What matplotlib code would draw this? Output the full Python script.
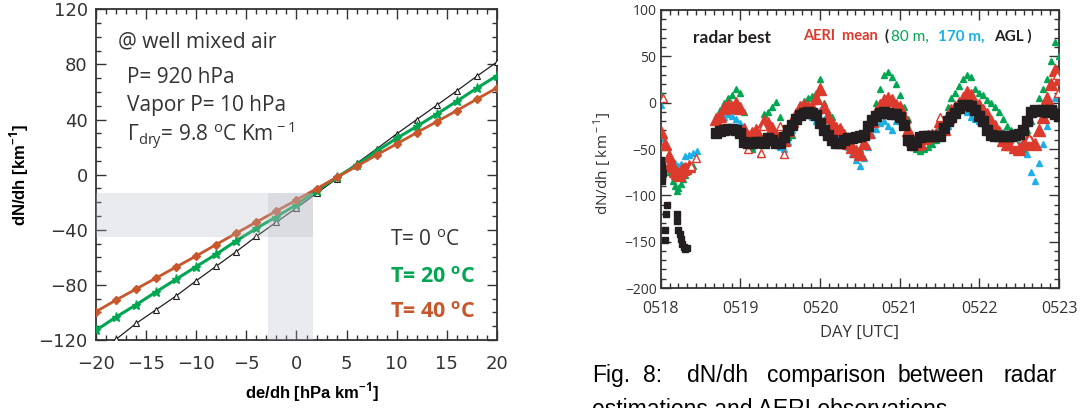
import matplotlib
matplotlib.use("Agg")
import matplotlib.pyplot as plt
from matplotlib.ticker import MultipleLocator, AutoMinorLocator, FixedLocator

plt.rcParams['font.family'] = ['Open Sans', 'DejaVu Sans']
plt.rcParams['mathtext.fontset'] = 'custom'
plt.rcParams['mathtext.rm'] = 'Open Sans'
plt.rcParams['mathtext.bf'] = 'Open Sans:bold'
plt.rcParams['axes.unicode_minus'] = True

# ---- left panel: dN/dh versus de/dh for three temperatures ----
dedh = [-20, -18, -16, -14, -12, -10, -8, -6, -4, -2, 0, 2, 4, 6, 8, 10, 12, 14, 16, 18, 20]
dndh_t0 = [-130, -119.5, -108, -98, -88, -77, -66.4, -55.8, -44.8, -34.4, -24.2,
           -13.6, -3, 8.2, 18.7, 29.6, 40, 50.4, 60.8, 71.5, 81.7]
dndh_t20 = [-113, -103.3, -94.5, -85, -75.9, -66.7, -57.7, -48, -39, -30.5, -21.8,
            -11.6, -2, 7, 17, 26.4, 35, 44, 53.3, 62.8, 71.8]
dndh_t40 = [-99.4, -91, -83, -75, -67, -59, -50.7, -42.4, -34.4, -26.4, -18.4,
            -10.2, -2, 6, 14.3, 22.3, 30.5, 38.5, 46.5, 54.8, 63]

# ---- right panel: radar vs AERI time series (days since 0518 00 UTC) ----
day_tail = [0.70, 0.75, 0.80, 0.85, 0.90, 0.95, 1.00, 1.05, 1.10, 1.15, 1.20, 1.25,
            1.30, 1.35, 1.40, 1.45, 1.50, 1.55, 1.60, 1.65, 1.70, 1.75, 1.80, 1.85,
            1.90, 1.95, 2.00, 2.05, 2.10, 2.15, 2.20, 2.25, 2.30, 2.35, 2.40, 2.45,
            2.50, 2.55, 2.60, 2.65, 2.70, 2.75, 2.80, 2.85, 2.90, 2.95, 3.00, 3.05,
            3.10, 3.15, 3.20, 3.25, 3.30, 3.35, 3.40, 3.45, 3.50, 3.55, 3.60, 3.65,
            3.70, 3.75, 3.80, 3.85, 3.90, 3.95, 4.00, 4.05, 4.10, 4.15, 4.20, 4.25,
            4.30, 4.35, 4.40, 4.45, 4.50, 4.55, 4.60, 4.65, 4.70, 4.75, 4.80, 4.85,
            4.90, 4.95, 5.00]

radar_head_day = [0.00, 0.00, 0.01, 0.01, 0.02, 0.03, 0.05, 0.06, 0.07, 0.08, 0.20,
                  0.21, 0.22, 0.24, 0.25, 0.27, 0.29, 0.31, 0.33]
radar_head = [-62, -72, -68, -80, -85, -76, -148, -137, -120, -110, -120,
              -128, -137, -142, -147, -152, -156, -158, -157]
radar_tail = [-33, -31, -30, -28, -28, -29, -33, -42, -44, -43, -42, -42,
              -43, -38, -40, -44, -43, -37, -30, -24, -18, -13, -11, -10,
              -11, -13, -22, -30, -35, -40, -43, -43, -40, -38, -38, -37,
              -36, -35, -25, -19, -14, -11, -10, -11, -12, -12, -15, -24,
              -40, -46, -42, -37, -36, -36, -36, -36, -36, -27, -20, -15,
              -11, -6, -3, -2, -4, -8, -14, -20, -30, -35, -36, -36,
              -36, -36, -36, -35, -34, -30, -20, -10, -8, -9, -8, -10,
              -8, -12, -14]

aeri_head_day = [0.00, 0.05, 0.10, 0.12, 0.15, 0.18, 0.20, 0.23, 0.25, 0.28, 0.30, 0.35]
aeri_head = [-32, -45, -58, -66, -68, -74, -76, -78, -74, -72, -70, -68]
aeri_tail = [-18, -14, -6, -3, -5, 0, -6, -28, -36, -33, -30, -38,
             -20, -22, -27, -35, -38, -40, -30, -20, -12, -5, -3, -5,
             -5, 5, 15, -5, -15, -22, -27, -28, -35, -43, -48, -52,
             -55, -43, -32, -20, -10, -2, 3, 5, 3, -3, -5, -15,
             -30, -40, -45, -43, -38, -36, -35, -34, -20, -28, -15, -8,
             -5, 0, 5, 12, 8, -5, -2, -8, -12, -20, -25, -32,
             -40, -45, -45, -48, -50, -45, -40, -42, -45, -30, -15, 5,
             20, 35, 25]
aeri_open_day = [0.03, 0.38, 0.44, 1.10, 1.26, 1.28, 1.50, 1.55, 3.50, 4.45, 4.62, 4.97, 4.99]
aeri_open = [5, -68, -60, -50, -54, -25, -25, -55, -16, -42, -38, 30, 10]

m80_head_day = [0.00, 0.02, 0.05, 0.08, 0.12, 0.15, 0.18, 0.20, 0.22, 0.25, 0.28, 0.30, 0.35, 0.40]
m80_head = [8, -35, -48, -60, -75, -85, -90, -95, -92, -88, -82, -78, -72, -68]
m80_tail = [-15, -8, 0, 5, 8, 15, 10, -10, -45, -50, -40, -45,
            -12, -10, -5, 1, -15, -30, -37, -35, -15, -3, 2, 5,
            7, 10, 25, 0, -10, -15, -25, -30, -40, -45, -50, -55,
            -50, -45, -30, -15, 0, 15, 30, 33, 28, 20, 8, -5,
            -18, -40, -50, -52, -50, -48, -45, -40, -25, -20, -5, 5,
            10, 18, 25, 30, 28, 15, 10, 8, 3, 0, -5, -10,
            -18, -25, -30, -40, -48, -50, -30, -20, -10, 5, 15, 25,
            45, 65, 50]

m170_head_day = [0.00, 0.03, 0.06, 0.10, 0.14, 0.18, 0.22, 0.26, 0.30, 0.35, 0.40, 0.45]
m170_head = [-2, -38, -45, -55, -62, -65, -68, -66, -58, -56, -54, -52]
m170_tail = [-20, -18, -15, -12, -14, -18, -22, -38, -42, -48, -45, -55,
             -45, -40, -30, -45, -48, -50, -42, -30, -20, -12, -10, -12,
             -15, -20, -8, -18, -25, -30, -35, -38, -42, -48, -55, -62,
             -68, -60, -48, -35, -28, -22, -20, -25, -30, -20, -10, -20,
             -30, -40, -45, -40, -38, -37, -36, -35, -15, -30, -25, -18,
             -12, -8, -5, -10, -15, -18, -20, -22, -25, -25, -28, -30,
             -32, -35, -38, -42, -45, -50, -55, -75, -85, -65, -45, -25,
             -10, 5, -5]

day_labels = ['0518', '0519', '0520', '0521', '0522', '0523']

c_black = '#231f20'
c_green = '#00a651'
c_orange = '#c8572c'
c_red = '#dc3a2d'
c_cyan = '#1cb0e8'

fig = plt.figure(figsize=(10.91, 4.08), dpi=100)

# left panel
ax1 = fig.add_axes([0.0880, 0.1667, 0.3675, 0.8105])
ax1.plot(dedh, dndh_t0, color=c_black, lw=0.9, marker='^', ms=4.5, mfc='white',
         mec=c_black, mew=0.8, zorder=3)
ax1.plot(dedh, dndh_t20, color=c_green, lw=2.2, marker='*', ms=6.5, mec=c_green, zorder=4)
ax1.plot(dedh, dndh_t40, color=c_orange, lw=2.0, marker='D', ms=4, mec=c_orange, zorder=5)
# shaded ranges drawn over the lines
ax1.fill_between([-20, 1.6], -45, -13, color='#b4b8c3', alpha=0.28, lw=0, zorder=6)
ax1.fill_between([-2.8, 1.6], -120, -13, color='#b4b8c3', alpha=0.28, lw=0, zorder=6)

ax1.set_xlim(-20, 20)
ax1.set_ylim(-120, 120)
ax1.xaxis.set_major_locator(MultipleLocator(5))
ax1.xaxis.set_minor_locator(MultipleLocator(1))
ax1.yaxis.set_major_locator(MultipleLocator(40))
ax1.yaxis.set_minor_locator(MultipleLocator(10))
ax1.tick_params(which='both', direction='in', top=True, right=True, width=1.0, color='#333333')
ax1.tick_params(which='major', length=7)
ax1.tick_params(which='minor', length=3.5)
ax1.tick_params(axis='x', pad=11)
ax1.tick_params(axis='y', pad=6)
for lab in ax1.get_xticklabels() + ax1.get_yticklabels():
    lab.set_fontfamily('DejaVu Sans')
    lab.set_fontsize(13)
    lab.set_color('#333333')
for sp in ax1.spines.values():
    sp.set_linewidth(1.3)
    sp.set_color('#333333')

ax1.set_ylabel('dN/dh [km$^{\\mathbf{-1}}$]', fontsize=12, fontweight='bold',
               family='Liberation Sans')
ax1.yaxis.set_label_coords(-0.162, 0.5)
ax1.set_xlabel('de/dh [hPa km$^{\\mathbf{-1}}$]', fontsize=12, fontweight='bold',
               family='Liberation Sans')
ax1.xaxis.set_label_coords(0.54, -0.125)

txt = dict(transform=ax1.transAxes, fontsize=15, color='#333333', va='center', ha='left')
ax1.text(0.055, 0.902, '@ well mixed air', **txt)
ax1.text(0.077, 0.793, 'P= 920 hPa', **txt)
ax1.text(0.077, 0.708, 'Vapor P= 10 hPa', **txt)
ax1.text(0.077, 0.620, '$\\Gamma_{\\rm dry}$= 9.8 $^{\\rm o}$C Km$^{\\rm -1}$', **txt)
ax1.text(0.733, 0.300, 'T= 0 $^{\\rm o}$C', **txt)
ax1.text(0.733, 0.190, 'T= 20 $^{\\bf o}$C', fontweight='bold', transform=ax1.transAxes,
         fontsize=15.5, color=c_green, va='center', ha='left')
ax1.text(0.733, 0.082, 'T= 40 $^{\\bf o}$C', fontweight='bold', transform=ax1.transAxes,
         fontsize=15.5, color=c_orange, va='center', ha='left')

# right panel
ax2 = fig.add_axes([0.6056, 0.2941, 0.3651, 0.6814])
ax2.plot(m170_head_day, m170_head, ls='none', marker='^', ms=4.5, color=c_cyan, zorder=2)
ax2.plot(day_tail, m170_tail, ls='none', marker='^', ms=4.5, color=c_cyan, zorder=2)
ax2.plot(m80_head_day, m80_head, ls='none', marker='^', ms=4.5, color=c_green, zorder=3)
ax2.plot(day_tail, m80_tail, ls='none', marker='^', ms=4.5, color=c_green, zorder=3)
ax2.plot(aeri_head_day, aeri_head, ls='none', marker='^', ms=9, color=c_red, zorder=4)
ax2.plot(day_tail, aeri_tail, ls='none', marker='^', ms=9, color=c_red, zorder=4)
ax2.plot(aeri_open_day, aeri_open, ls='none', marker='^', ms=5.5, mfc='white',
         mec=c_red, mew=1.0, zorder=4)
ax2.plot(radar_head_day, radar_head, ls='none', marker='s', ms=4, color=c_black, zorder=5)
ax2.plot(day_tail, radar_tail, ls='none', marker='s', ms=7, color=c_black, zorder=5)

ax2.set_xlim(0, 5)
ax2.set_ylim(-200, 100)
ax2.xaxis.set_major_locator(FixedLocator(range(len(day_labels))))
ax2.set_xticklabels(day_labels)
ax2.xaxis.set_minor_locator(AutoMinorLocator(9))
ax2.yaxis.set_major_locator(MultipleLocator(50))
ax2.yaxis.set_minor_locator(MultipleLocator(10))
ax2.tick_params(which='both', direction='in', top=True, right=True, width=1.0, color='#333333')
ax2.tick_params(which='major', length=7)
ax2.tick_params(which='minor', length=3.5)
ax2.tick_params(axis='x', labelsize=11.5, pad=9, labelcolor='#333333')
ax2.tick_params(axis='y', labelsize=10, pad=3, labelcolor='#333333')
for sp in ax2.spines.values():
    sp.set_linewidth(1.3)
    sp.set_color('#333333')
ax2.set_xlabel('DAY [UTC]', fontsize=12, color='#333333', labelpad=6)
ax2.set_ylabel('dN/dh [ km$^{\\rm -1}$]', fontsize=11, color='#333333')
ax2.yaxis.set_label_coords(-0.117, 0.446)

key = dict(transform=ax2.transAxes, va='center', ha='left', family=['Lato', 'DejaVu Sans'])
ax2.text(0.081, 0.899, 'radar best', fontsize=12.5, fontweight='bold', color=c_black, **key)
ax2.text(0.357, 0.905, 'AERI  mean', fontsize=10.5, fontweight='bold', color=c_red, **key)
ax2.text(0.562, 0.905, '(', fontsize=11, fontweight='bold', color=c_black, **key)
ax2.text(0.578, 0.905, '80 m,', fontsize=11, color=c_green, **key)
ax2.text(0.695, 0.905, '170 m,', fontsize=11, fontweight='bold', color=c_cyan, **key)
ax2.text(0.838, 0.905, 'AGL )', fontsize=11, fontweight='bold', color=c_black, **key)

# caption below the right panel, spread across the column width
cap = dict(fontsize=16.5, family='Liberation Sans', color='black', va='baseline')
cap_y = 1 - 382 / 408
for word, xpix in [('Fig.', 592), ('8:', 643), ('dN/dh', 687), ('comparison', 767),
                   ('between', 898)]:
    fig.text(xpix / 1091, cap_y, word, ha='left', **cap)
fig.text(1057 / 1091, cap_y, 'radar', ha='right', **cap)
fig.text(592 / 1091, 1 - 416 / 408, 'estimations and AERI observations', ha='left', **cap)

fig.savefig('out.png', dpi=100)
